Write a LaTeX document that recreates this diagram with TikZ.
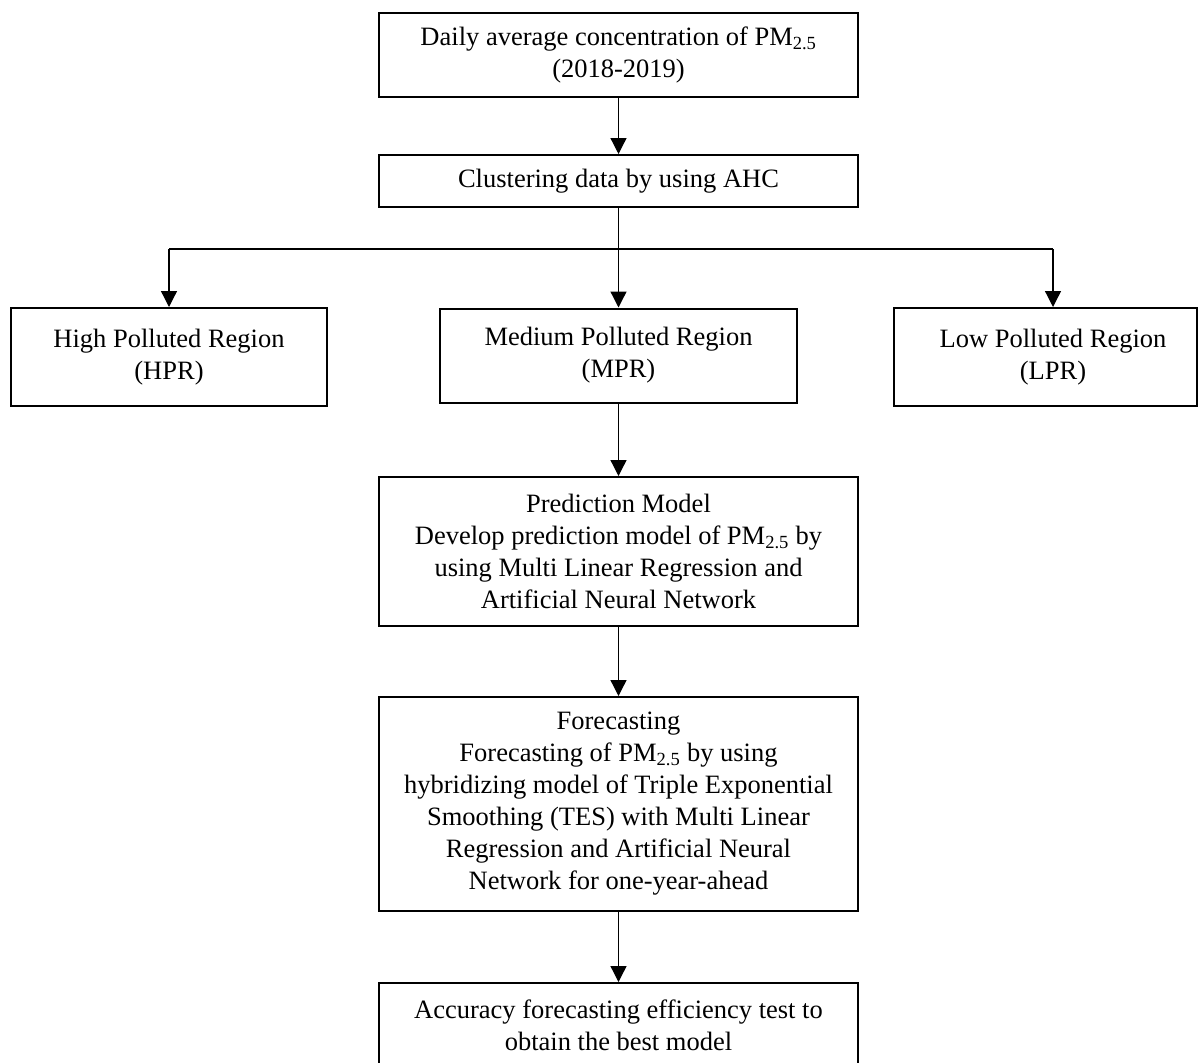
\documentclass[tikz,border=0pt]{standalone}
\usepackage{fontspec}
\setmainfont{Liberation Serif}
\usetikzlibrary{arrows.meta}
\begin{document}
\begin{tikzpicture}[x=1pt,y=-1pt,
  box/.style={draw=black, line width=2pt, inner sep=0pt, align=center,
    font=\fontsize{26.5}{32}\selectfont},
  txt/.style={inner sep=0pt, align=center, font=\fontsize{26.5}{32}\selectfont},
  conn/.style={line width=1.3pt, draw=black},
  arr/.style={conn, -{Triangle[length=16pt,width=16pt]}}]
\useasboundingbox (0,0) rectangle (1198,1062);
\clip (0,0) rectangle (1198,1062);
\node[box, minimum width=479, minimum height=84] (top) at (618.5,55)
  {Daily average concentration of PM\textsubscript{2.5}\\(2018-2019)};
\node[box, minimum width=479, minimum height=52] (clus) at (618.5,181)
  {Clustering data by using AHC};
\node[box, minimum width=316, minimum height=98] (hpr) at (169,357)
  {High Polluted Region\\(HPR)};
\node[box, minimum width=357, minimum height=94] (mpr) at (618.5,355.5)
  {Medium Polluted Region\\(MPR)};
\node[box, minimum width=303, minimum height=98] (lpr) at (1045.5,357) {};
\node[txt] (lprt) at (1053,357) {Low Polluted Region\\(LPR)};
\node[box, minimum width=479, minimum height=149] (pred) at (618.5,551.5)
  {Prediction Model\\Develop prediction model of PM\textsubscript{2.5} by\\using Multi Linear Regression and\\Artificial Neural Network};
\node[box, minimum width=479, minimum height=214] (fore) at (618.5,804)
  {Forecasting\\Forecasting of PM\textsubscript{2.5} by using\\hybridizing model of Triple Exponential\\Smoothing (TES) with Multi Linear\\Regression and Artificial Neural\\Network for one-year-ahead};
\node[box, minimum width=479, minimum height=84] (acc) at (618.5,1025)
  {Accuracy forecasting efficiency test to\\obtain the best model};
\coordinate (brL) at (169,249);
\coordinate (brM) at (618.5,249);
\coordinate (brR) at (1053,249);
\draw[arr] (top) -- (clus);
\draw[conn] (clus.south) -- (brM);
\draw[conn] (brL) -- (brR);
\draw[arr] (brL) -- (hpr.north);
\draw[arr] (brM) -- (mpr.north);
\draw[arr] (brR) -- (lprt |- lpr.north);
\draw[arr] (mpr) -- (pred);
\draw[arr] (pred) -- (fore);
\draw[arr] (fore) -- (acc);
\end{tikzpicture}
\end{document}
